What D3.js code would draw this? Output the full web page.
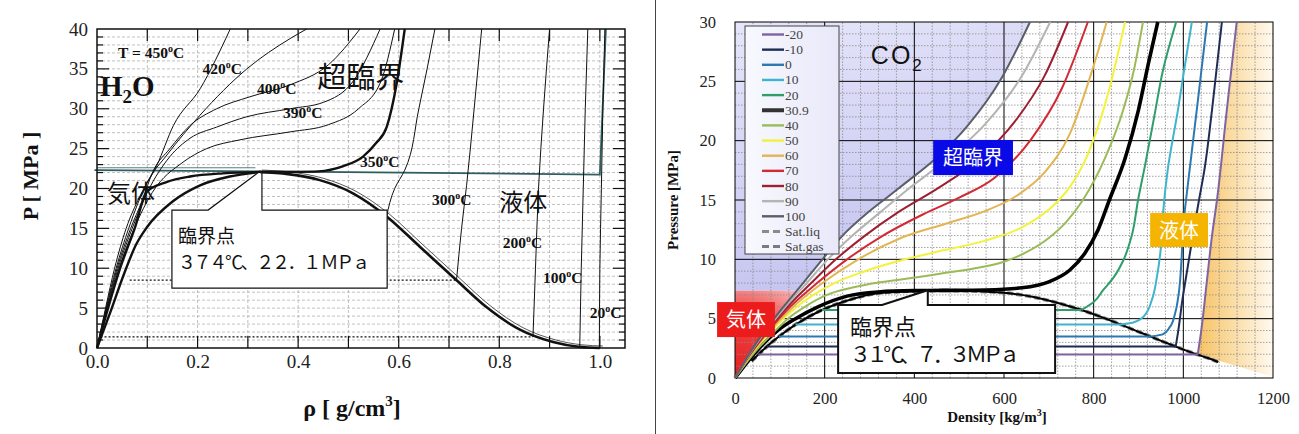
<!DOCTYPE html>
<html><head><meta charset="utf-8">
<script src="https://cdn.jsdelivr.net/npm/d3@7"></script>
<style>body{margin:0;background:#fff;} svg{display:block;}</style>
</head><body>
<svg id="c" width="1299" height="434"></svg>
<script>
// ================= H2O (left) data =================
const h2oRhoTicks = [0,0.2,0.4,0.6,0.8,1.0];
const h2oPTicks = [0,5,10,15,20,25,30,35,40];
const h2oT450 = [[0,0],[0.017,5],[0.035,10],[0.058,15],[0.085,19],[0.119,22.9],[0.152,27.9],[0.205,32.5],[0.265,40]];
const h2oT420 = [[0,0],[0.018,5],[0.038,10],[0.063,15],[0.1,20.8],[0.139,24.2],[0.205,29.2],[0.298,35],[0.384,38.8],[0.417,40]];
const h2oT400 = [[0,0],[0.019,5],[0.04,10],[0.067,15],[0.09,18.5],[0.111,22.1],[0.145,25],[0.185,27.9],[0.238,30],[0.304,31.5],[0.384,33],[0.46,35.5],[0.523,40]];
const h2oT390 = [[0,0],[0.02,5],[0.042,10],[0.07,15],[0.1,19.5],[0.145,24],[0.185,26.3],[0.238,27.7],[0.298,29],[0.384,30],[0.45,30.8],[0.51,33.5],[0.563,40]];
const h2oT380 = [[0,0],[0.021,5],[0.044,10],[0.074,15],[0.11,19.5],[0.171,23.3],[0.218,25],[0.284,26.1],[0.384,27.1],[0.46,28],[0.52,30],[0.565,33.5],[0.592,40]];
const h2oTcrit = [[0,0],[0.022,5],[0.046,10],[0.075,15],[0.099,19.6],[0.138,20.8],[0.185,21.5],[0.25,21.9],[0.322,22.06],[0.38,22.08],[0.44,22.15],[0.49,22.8],[0.529,24],[0.555,25.7],[0.576,27.7],[0.596,33.2],[0.612,40]];
const h2oSatVap = [[0,0],[0.013,2.2],[0.026,4.4],[0.052,9.0],[0.078,13.0],[0.1,15.2],[0.151,18.4],[0.205,20.4],[0.264,21.5],[0.322,22.06]];
const h2oSatLiq = [[0.322,22.06],[0.38,21.8],[0.443,21.05],[0.509,19.4],[0.576,16.5],[0.642,12.7],[0.715,8.5],[0.775,5.1],[0.841,2.3],[0.907,0.75],[0.958,0.15],[1.0,0.0]];
const h2oT350 = [[0.576,16.5],[0.592,20],[0.612,22.3],[0.64,30],[0.672,40]];
const h2oT300 = [[0.715,8.5],[0.725,15],[0.735,20.4],[0.75,30],[0.765,40]];
const h2oT200 = [[0.867,1.4],[0.872,10],[0.878,20],[0.888,30],[0.9,40]];
const h2oT100 = [[0.96,0.12],[0.963,10],[0.967,20],[0.971,30],[0.976,40]];
const h2oT20 = [[0.999,0],[1.0,10],[1.003,20],[1.006,30],[1.01,40]];
const h2oFlat300 = [[0.065,8.5],[0.715,8.5]];
const h2oFlat200 = [[0.007,1.4],[0.867,1.4]];
const h2oBoundary = [[-0.005,22.3],[0.5,22.05],[1.0,21.75],[1.012,40]];
const h2oBoundary2 = [[0,22.6],[0.315,22.6]];
const h2oCrit = [0.322,22.06];
const h2oLabels = [
  {t:"T = 450", r:0.042, p:36.4},
  {t:"420", r:0.21, p:34.4},
  {t:"400", r:0.318, p:31.9},
  {t:"390", r:0.37, p:28.8},
  {t:"350", r:0.523, p:22.7},
  {t:"300", r:0.666, p:17.9},
  {t:"200", r:0.807, p:12.5},
  {t:"100", r:0.887, p:8.1},
  {t:"20", r:0.98, p:3.7}
];

// ================= CO2 (right) data =================
const co2DensTicks = [0,200,400,600,800,1000,1200];
const co2PTicks = [0,5,10,15,20,25,30];
const co2Names = ["-20","-10","0","10","20","30.9","40","50","60","70","80","90","100"];
const co2Colors = ["#8064a2","#1f2d55","#2d78b0","#3fb4cc","#2f9e6b","#000000","#9bbb59","#f2f23a","#e3b552","#d22a35","#9c1f32","#b4b4b4","#5a5e6a"];
// sub-critical: [sat vapour], [sat liquid], liquid branch...
const co2Tm20 = [[52,1.97],[1032,1.97],[1040,4],[1052,8],[1064,12],[1075,15],[1097,22.6],[1119,30]];
const co2Tm10 = [[71,2.65],[983,2.65],[988,3.8],[998,6.6],[1010,9.4],[1022,12.2],[1035,15],[1046,17.3],[1064,22.6],[1086,30]];
const co2T0 = [[98,3.49],[927,3.49],[955,3.7],[970,4.3],[982,5.5],[990,7.2],[996,10],[1000,13],[1006,15],[1030,22.6],[1053,30]];
const co2T10 = [[135,4.5],[861,4.5],[890,4.7],[912,5.2],[930,6.6],[941,8.5],[950,11],[955,14],[965,17.5],[988,22.6],[1000,25.5],[1019,30]];
const co2T20 = [[194,5.73],[773,5.73],[800,6.4],[821,7.4],[845,8.5],[866,9.9],[885,12],[899,15],[915,18],[935,22],[955,26],[984,30]];
// super-critical
const co2T309 = [[0,0],[42,2],[95,4],[135,5],[185,6],[250,6.9],[320,7.25],[400,7.36],[467,7.38],[560,7.42],[640,7.6],[700,8.1],[747,9.1],[780,10.5],[810,12.5],[835,15],[870,18.5],[900,22.6],[922,26.5],[943,30]];
const co2T40 = [[0,0],[40,2],[85,3.8],[118,5],[160,6.1],[205,7.0],[260,7.6],[320,8.05],[390,8.4],[460,8.8],[530,9.2],[600,9.8],[650,10.6],[700,11.8],[740,13.2],[776,15],[825,18.5],[866,22.6],[890,26],[910,30]];
const co2T50 = [[0,0],[36,2],[82,4],[138,6],[175,7],[222,8],[290,9],[380,10],[470,10.8],[560,11.6],[640,12.7],[700,14.2],[745,16],[784,18.6],[836,24.5],[870,30]];
const co2T60 = [[0,0],[35,2],[78,4],[130,6],[195,8],[275,10],[370,11.8],[470,13],[560,14.1],[630,15.4],[690,17.3],[747,20.6],[799,26.2],[829,30]];
const co2T70 = [[0,0],[34,2],[75,4],[123,6],[183,8],[250,10],[330,12],[420,13.8],[500,15.2],[580,16.9],[662,20.2],[729,24.4],[787,30]];
const co2T80 = [[0,0],[33,2],[72,4],[117,6],[170,8],[225,10],[290,12],[365,14],[453,16],[543,18.4],[624,21.6],[691,25.5],[743,30]];
const co2T90 = [[0,0],[32,2],[70,4],[112,6],[160,8],[207,10],[262,12],[325,14],[379,15.7],[468,18.3],[558,21.4],[639,25.4],[703,30]];
const co2T100 = [[0,0],[31,2],[67,4],[108,6],[152,8],[195,10],[240,12],[295,13.9],[342,15.3],[379,16.4],[442,18.3],[520,21.3],[595,25.3],[658,30]];
const co2SatGas = [[37,1.43],[52,1.97],[71,2.65],[98,3.49],[135,4.5],[194,5.73],[242,6.43],[334,7.21],[467,7.38]];
const co2SatLiq = [[467,7.38],[593,7.21],[710,6.43],[773,5.73],[821,5.09],[861,4.5],[895,3.97],[927,3.49],[956,3.05],[983,2.65],[1008,2.29],[1032,1.97],[1055,1.68],[1078,1.35]];
const co2Crit = [467,7.38];
const co2Pc = 7.35;

// ====================================================
const svg = d3.select("#c");
const defs = svg.append("defs");
const serif = "'Liberation Serif', 'Times New Roman', Tinos, 'DejaVu Serif', serif";
const sans = "'Liberation Sans', Arial, sans-serif";
const cjk = "'Noto Sans CJK JP', 'Noto Sans CJK SC', sans-serif";

svg.append("line").attr("x1",655.5).attr("x2",655.5).attr("y1",0).attr("y2",434).attr("stroke","#444").attr("stroke-width",1);

// ---------------- LEFT ----------------
const xL = d3.scaleLinear().domain([0,1.05]).range([97,625]);
const yL = d3.scaleLinear().domain([0,40]).range([348,29]);
const gL = svg.append("g");
const lineL = (curve)=>d3.line().x(d=>xL(d[0])).y(d=>yL(d[1])).curve(curve);

gL.selectAll(".gvx").data(d3.range(1,11).map(i=>i/10)).join("line")
  .attr("x1",d=>xL(d)).attr("x2",d=>xL(d)).attr("y1",yL(0)).attr("y2",yL(40))
  .attr("stroke","#b0b0b0").attr("stroke-width",0.8).attr("stroke-dasharray","3,2");
gL.selectAll(".ghy").data(d3.range(1,40)).join("line")
  .attr("x1",xL(0)).attr("x2",xL(1.05)).attr("y1",d=>yL(d)).attr("y2",d=>yL(d))
  .attr("stroke","#b0b0b0").attr("stroke-width",0.8).attr("stroke-dasharray","3,2");

const tk = gL.append("g").attr("stroke","#111").attr("stroke-width",1.2);
d3.range(1,11).map(i=>i/10).forEach(v=>{
  tk.append("line").attr("x1",xL(v)).attr("x2",xL(v)).attr("y1",yL(0)).attr("y2",yL(0)-12);
  tk.append("line").attr("x1",xL(v)).attr("x2",xL(v)).attr("y1",yL(40)).attr("y2",yL(40)+12);
});
d3.range(1,40).forEach(v=>{
  const len = v%5===0?12:6;
  tk.append("line").attr("x1",xL(0)).attr("x2",xL(0)+len).attr("y1",yL(v)).attr("y2",yL(v));
  tk.append("line").attr("x1",xL(1.05)).attr("x2",xL(1.05)-len).attr("y1",yL(v)).attr("y2",yL(v));
});

[h2oFlat300,h2oFlat200].forEach(a=>{
  gL.append("path").attr("d",lineL(d3.curveLinear)(a)).attr("fill","none")
    .attr("stroke","#111").attr("stroke-width",1.2).attr("stroke-dasharray","2,2");
});

gL.append("path").attr("d",lineL(d3.curveLinear)(h2oBoundary)).attr("fill","none").attr("stroke","#2f5d62").attr("stroke-width",1.8);
gL.append("path").attr("d",lineL(d3.curveLinear)(h2oBoundary2)).attr("fill","none").attr("stroke","#2f5d62").attr("stroke-width",0.8);

[h2oT450,h2oT420,h2oT400,h2oT390,h2oT380].forEach(a=>{
  gL.append("path").attr("d",lineL(d3.curveMonotoneX)(a)).attr("fill","none").attr("stroke","#111").attr("stroke-width",1);
});
[h2oT350,h2oT300,h2oT200,h2oT100,h2oT20].forEach(a=>{
  gL.append("path").attr("d",lineL(d3.curveMonotoneY)(a)).attr("fill","none").attr("stroke","#111").attr("stroke-width",1);
});
gL.append("path").attr("d",lineL(d3.curveMonotoneX)(h2oTcrit)).attr("fill","none").attr("stroke","#111").attr("stroke-width",2.4);
gL.append("path").attr("d",lineL(d3.curveMonotoneX)(h2oSatVap)).attr("fill","none").attr("stroke","#111").attr("stroke-width",2.4);
gL.append("path").attr("d",lineL(d3.curveMonotoneX)(h2oSatLiq)).attr("fill","none").attr("stroke","#111").attr("stroke-width",2.6);
gL.append("path").attr("d",lineL(d3.curveMonotoneX)(h2oSatLiq.map(d=>[d[0]+0.006,d[1]+0.25]))).attr("fill","none").attr("stroke","#111").attr("stroke-width",0.7);

gL.append("rect").attr("x",xL(0)).attr("y",yL(40)).attr("width",xL(1.05)-xL(0)).attr("height",yL(0)-yL(40))
  .attr("fill","none").attr("stroke","#111").attr("stroke-width",1.5);

const axL = gL.append("g").attr("transform",`translate(${xL(0)},0)`)
  .call(d3.axisLeft(yL).tickValues(h2oPTicks).tickSize(0).tickPadding(9).tickFormat(d3.format("d")));
const axB = gL.append("g").attr("transform",`translate(0,${yL(0)})`)
  .call(d3.axisBottom(xL).tickValues(h2oRhoTicks).tickSize(0).tickPadding(7).tickFormat(d3.format(".1f")));
[axL,axB].forEach(a=>{a.attr("font-family",null).attr("font-size",null); a.select(".domain").remove(); a.selectAll("text").style("font-family",serif).style("font-size","19px").attr("fill","#222");});

gL.append("text").attr("transform","translate(38,176) rotate(-90)").attr("text-anchor","middle")
  .style("font-family",serif).attr("font-weight","bold").style("font-size","22px").attr("fill","#111").text("P [ MPa ]");
const xt = gL.append("text").attr("x",352).attr("y",416).attr("text-anchor","middle")
  .style("font-family",serif).attr("font-weight","bold").style("font-size","24px").attr("fill","#111");
xt.append("tspan").text("ρ [ g/cm");
xt.append("tspan").attr("dy",-10).style("font-size","15px").text("3");
xt.append("tspan").attr("dy",10).text("]");

h2oLabels.forEach(l=>{
  const t = gL.append("text").attr("x",xL(l.r)).attr("y",yL(l.p))
    .style("font-family",serif).attr("font-weight","bold").style("font-size","15.5px").attr("fill","#111");
  t.append("tspan").text(l.t);
  t.append("tspan").attr("dy",-6).style("font-size","10px").text("o");
  t.append("tspan").attr("dy",6).text("C");
});
const h2o = gL.append("text").attr("x",xL(0.006)).attr("y",yL(31.6)).style("font-family",serif).attr("font-weight","bold").style("font-size","29px").attr("fill","#111");
h2o.append("tspan").text("H");
h2o.append("tspan").attr("dy",7).style("font-size","19px").text("2");
h2o.append("tspan").attr("dy",-7).text("O");
gL.append("text").attr("x",xL(0.438)).attr("y",yL(32.6)).style("font-family",cjk).style("font-size","29px").attr("fill","#111").text("超臨界");
gL.append("text").attr("x",xL(0.02)).attr("y",yL(18.3)).style("font-family",cjk).style("font-size","24px").attr("fill","#111").text("気体");
gL.append("text").attr("x",xL(0.8)).attr("y",yL(17.2)).style("font-family",cjk).style("font-size","24px").attr("fill","#111").text("液体");

{
  const bx0=xL(0.149), bx1=xL(0.577), by0=yL(17.3), by1=yL(7.5);
  const pb=xL(0.221), pv=xL(0.328), tipx=xL(h2oCrit[0]), tipy=yL(h2oCrit[1]);
  const p = `M${bx0},${by0} L${pb},${by0} L${tipx},${tipy} L${pv},${tipy+1} L${pv},${by0} L${bx1},${by0} L${bx1},${by1} L${bx0},${by1} Z`;
  gL.append("path").attr("d",p).attr("fill","#fff").attr("stroke","#111").attr("stroke-width",1.2);
  gL.append("text").attr("x",bx0+6).attr("y",by0+33).style("font-family",cjk).style("font-size","19px").attr("fill","#111").text("臨界点");
  gL.append("text").attr("x",bx0+6).attr("y",by0+59).style("font-family",cjk).style("font-size","18px").attr("fill","#111")
    .attr("textLength",192).attr("lengthAdjust","spacing").text("３７４℃、２２．１ ＭＰａ");
}

// ---------------- RIGHT ----------------
const xR = d3.scaleLinear().domain([0,1200]).range([735,1273]);
const yR = d3.scaleLinear().domain([0,30]).range([378,22]);
const gR = svg.append("g");
const lineR = (curve)=>d3.line().x(d=>xR(d[0])).y(d=>yR(d[1])).curve(curve);

const gb = defs.append("linearGradient").attr("id","blueG").attr("x1",0).attr("y1",0).attr("x2",0.3).attr("y2",1);
gb.append("stop").attr("offset",0).attr("stop-color","#e6e6fa");
gb.append("stop").attr("offset",1).attr("stop-color","#c4c4f1");
const gr = defs.append("radialGradient").attr("id","redG").attr("gradientUnits","userSpaceOnUse")
  .attr("cx",xR(0)).attr("cy",yR(0)).attr("r",110);
gr.append("stop").attr("offset",0).attr("stop-color","#e61c1c");
gr.append("stop").attr("offset",0.6).attr("stop-color","#ee4848");
gr.append("stop").attr("offset",1).attr("stop-color","#f9c4c4");
const go = defs.append("linearGradient").attr("id","orG").attr("gradientUnits","userSpaceOnUse")
  .attr("x1",xR(1040)).attr("y1",0).attr("x2",xR(1200)).attr("y2",0);
go.append("stop").attr("offset",0).attr("stop-color","#f7c56a");
go.append("stop").attr("offset",1).attr("stop-color","#fffaf0");
const gleg = defs.append("linearGradient").attr("id","legG").attr("x1",0).attr("y1",0).attr("x2",1).attr("y2",0);
gleg.append("stop").attr("offset",0).attr("stop-color","#f8f8fe");
gleg.append("stop").attr("offset",1).attr("stop-color","#e8e8f9");

function rhoAt(arr,P){for(let i=1;i<arr.length;i++){const a=arr[i-1],b=arr[i];if(P>=a[1]&&P<=b[1]){return a[0]+(b[0]-a[0])*(P-a[1])/(b[1]-a[1]);}}return arr[arr.length-1][0];}
const rPc = rhoAt(co2T100,co2Pc);
const upper = co2T100.filter(d=>d[1]>co2Pc);
const bluePoly = [[0,co2Pc],[0,30]].concat(upper.slice().reverse()).concat([[rPc,co2Pc]]);
const lower = co2T100.filter(d=>d[1]<co2Pc);
const redPoly = [[0,0],[0,co2Pc],[rPc,co2Pc]].concat(lower.slice().reverse());
const liqTop = co2Tm20.slice(1);
const orPoly = liqTop.concat([[1200,30],[1200,0.1]]);
const poly = d3.line().x(d=>xR(d[0])).y(d=>yR(d[1]));
gR.append("path").attr("d",poly(bluePoly)+"Z").attr("fill","url(#blueG)");
gR.append("path").attr("d",poly(redPoly)+"Z").attr("fill","url(#redG)");
gR.append("path").attr("d",poly(orPoly)+"Z").attr("fill","url(#orG)");

gR.selectAll(".mx").data(d3.range(40,1200,40).filter(d=>d%200!==0)).join("line")
  .attr("x1",d=>xR(d)).attr("x2",d=>xR(d)).attr("y1",yR(0)).attr("y2",yR(30))
  .attr("stroke","#8a8a8a").attr("stroke-width",0.8).attr("stroke-dasharray","1.5,1.5");
gR.selectAll(".my").data(d3.range(1,30).filter(d=>d%5!==0)).join("line")
  .attr("x1",xR(0)).attr("x2",xR(1200)).attr("y1",d=>yR(d)).attr("y2",d=>yR(d))
  .attr("stroke","#8a8a8a").attr("stroke-width",0.8).attr("stroke-dasharray","1.5,1.5");
gR.selectAll(".Mx").data(co2DensTicks.slice(1,-1)).join("line")
  .attr("x1",d=>xR(d)).attr("x2",d=>xR(d)).attr("y1",yR(0)).attr("y2",yR(30)).attr("stroke","#000").attr("stroke-width",1);
gR.selectAll(".My").data(co2PTicks.slice(1,-1)).join("line")
  .attr("x1",xR(0)).attr("x2",xR(1200)).attr("y1",d=>yR(d)).attr("y2",d=>yR(d)).attr("stroke","#000").attr("stroke-width",1);
gR.append("rect").attr("x",xR(0)).attr("y",yR(30)).attr("width",xR(1200)-xR(0)).attr("height",yR(0)-yR(30))
  .attr("fill","none").attr("stroke","#000").attr("stroke-width",1);

gR.append("path").attr("d",lineR(d3.curveMonotoneX)(co2SatGas)).attr("fill","none").attr("stroke","#777").attr("stroke-width",3.6).attr("stroke-dasharray","6,3");
gR.append("path").attr("d",lineR(d3.curveMonotoneX)(co2SatLiq)).attr("fill","none").attr("stroke","#888").attr("stroke-width",3.6).attr("stroke-dasharray","6,3");
gR.append("path").attr("d",lineR(d3.curveMonotoneX)(co2SatGas)).attr("fill","none").attr("stroke","#000").attr("stroke-width",2);
gR.append("path").attr("d",lineR(d3.curveMonotoneX)(co2SatLiq)).attr("fill","none").attr("stroke","#000").attr("stroke-width",2);

const co2Series = [co2Tm20,co2Tm10,co2T0,co2T10,co2T20,co2T309,co2T40,co2T50,co2T60,co2T70,co2T80,co2T90,co2T100];
co2Series.forEach((a,i)=>{
  const col = co2Colors[i], w = co2Names[i]==="30.9"?3.6:2;
  if(i<5){
    gR.append("path").attr("d",lineR(d3.curveLinear)(a.slice(0,2))).attr("fill","none").attr("stroke",col).attr("stroke-width",w);
    gR.append("path").attr("d",lineR(d3.curveMonotoneY)(a.slice(1))).attr("fill","none").attr("stroke",col).attr("stroke-width",w);
  } else {
    gR.append("path").attr("d",lineR(d3.curveMonotoneX)(a)).attr("fill","none").attr("stroke",col).attr("stroke-width",w);
  }
});

const axRL = gR.append("g").attr("transform",`translate(${xR(0)},0)`)
  .call(d3.axisLeft(yR).tickValues(co2PTicks).tickSize(0).tickPadding(19).tickFormat(d3.format("d")));
const axRB = gR.append("g").attr("transform",`translate(0,${yR(0)})`)
  .call(d3.axisBottom(xR).tickValues(co2DensTicks).tickSize(0).tickPadding(14).tickFormat(d3.format("d")));
[axRL,axRB].forEach(a=>{a.attr("font-family",null).attr("font-size",null); a.select(".domain").remove(); a.selectAll("text").style("font-family",serif).style("font-size","16.5px").attr("fill","#222");});
gR.append("text").attr("transform","translate(678,200) rotate(-90)").attr("text-anchor","middle")
  .style("font-family",serif).attr("font-weight","bold").style("font-size","15px").attr("fill","#111").text("Pressure [MPa]");
const dx = gR.append("text").attr("x",997).attr("y",422).attr("text-anchor","middle")
  .style("font-family",serif).attr("font-weight","bold").style("font-size","15px").attr("fill","#111");
dx.append("tspan").text("Density [kg/m");
dx.append("tspan").attr("dy",-6).style("font-size","10px").text("3");
dx.append("tspan").attr("dy",6).text("]");

{
  const lg = gR.append("g");
  lg.append("rect").attr("x",745).attr("y",26).attr("width",94).attr("height",228).attr("fill","url(#legG)").attr("stroke","#444").attr("stroke-width",1);
  const names = co2Names.concat(["Sat.liq","Sat.gas"]);
  names.forEach((n,i)=>{
    const y = 34.5 + i*15.15;
    const isSat = i>=13;
    lg.append("line").attr("x1",762).attr("x2",784).attr("y1",y).attr("y2",y)
      .attr("stroke", isSat ? (i===13?"#8a8a8a":"#7a7a80") : (n==="30.9"?"#333":co2Colors[i]))
      .attr("stroke-width", n==="30.9"?4:(isSat?3:2.4))
      .attr("stroke-dasharray", isSat?"7,4":null);
    lg.append("text").attr("x",785).attr("y",y+4.5).style("font-family",serif).style("font-size","13.5px").attr("fill","#444").text(n);
  });
}

{
  const t = gR.append("text").attr("x",xR(303)).attr("y",yR(26.5)).style("font-family",sans).style("font-size","25px").attr("letter-spacing",2).attr("fill","#111");
  t.append("tspan").text("CO");
  t.append("tspan").attr("dy",7).style("font-size","17px").text("2");
}
function tagBox(x0,x1,p0,p1,color,txt){
  gR.append("rect").attr("x",xR(x0)).attr("y",yR(p0)).attr("width",xR(x1)-xR(x0)).attr("height",yR(p1)-yR(p0)).attr("fill",color);
  gR.append("text").attr("x",(xR(x0)+xR(x1))/2).attr("y",(yR(p0)+yR(p1))/2+7.5).attr("text-anchor","middle")
    .style("font-family",cjk).style("font-size","20px").attr("fill","#fff").text(txt);
}
tagBox(442,620,20.06,17.1,"#0a0ae6","超臨界");
tagBox(926,1055,13.9,11.04,"#f5b400","液体");
tagBox(-40,89,6.4,3.45,"#ec1c1c","気体");

{
  const bx0=xR(230), bx1=xR(714), by0=yR(6.15), by1=yR(0.42);
  const pb=xR(328), tipx=xR(co2Crit[0]-37), tipy=yR(co2Crit[1]+0.02);
  const p = `M${bx0},${by0} L${pb},${by0} L${tipx},${tipy} L${tipx},${by0} L${bx1},${by0} L${bx1},${by1} L${bx0},${by1} Z`;
  gR.append("path").attr("d",p).attr("fill","#fff").attr("stroke","#111").attr("stroke-width",2);
  gR.append("text").attr("x",bx0+12).attr("y",by0+30).style("font-family",cjk).style("font-size","22px").attr("fill","#111").text("臨界点");
  gR.append("text").attr("x",bx0+12).attr("y",by0+57).style("font-family",cjk).style("font-size","21px").attr("fill","#111")
    .attr("textLength",170).attr("lengthAdjust","spacing").text("３１℃、７．３ ＭＰａ");
}
</script>
</body></html>
